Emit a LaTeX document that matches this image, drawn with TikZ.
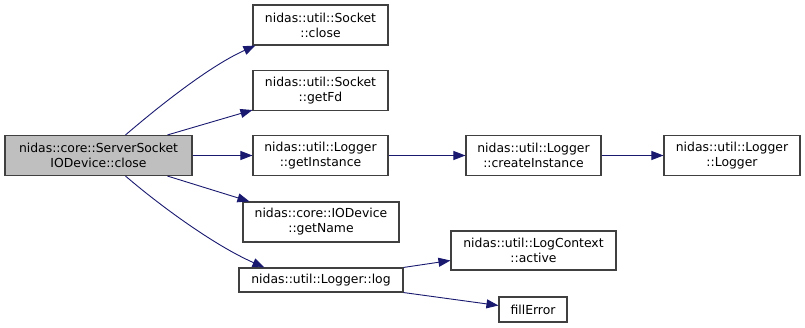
\documentclass[tikz,border=0pt]{standalone}
\usepackage{fontspec}
\usepackage{xcolor}
\usepackage{tikz}
\usetikzlibrary{arrows.meta}
\newfontfamily\dxfont{DejaVu Sans}
\definecolor{dxblue}{HTML}{191970}
\definecolor{dxgray}{HTML}{404040}
\definecolor{dxfill}{HTML}{BFBFBF}

\begin{document}
\begin{tikzpicture}[
    x=1pt,y=-1pt,
    fn/.style    = {draw=dxgray, line width=1.1pt, fill=white, align=center,
                    font=\dxfont\fontsize{12.4}{15}\selectfont,
                    inner sep=0pt, minimum height=40pt},
    fnr/.style   = {fn, fill=dxfill},
    appel/.style = {-{Triangle[length=12pt,width=9pt]}, dxblue, line width=0.9pt},
  ]

  \useasboundingbox (0,0) rectangle (805,328);

  \node[fnr,minimum width=187pt] (srv) at (98.5,155.5)
       {nidas::core::ServerSocket\\IODevice::close};

  \node[fn,minimum width=135pt] (sclose) at (320.5,25)  {nidas::util::Socket\\::close};
  \node[fn,minimum width=135pt] (getfd)  at (320.5,90.5) {nidas::util::Socket\\::getFd};
  \node[fn,minimum width=135pt] (getins) at (320.5,155.5) {nidas::util::Logger\\::getInstance};
  \node[fn,minimum width=156pt] (getnam) at (321,222)   {nidas::core::IODevice\\::getName};
  \node[fn,minimum width=164pt,minimum height=24pt] (log) at (321,280)
       {nidas::util::Logger::log};

  \node[fn,minimum width=135pt] (creins) at (533.5,155.5) {nidas::util::Logger\\::createInstance};
  \node[fn,minimum width=136pt] (lgr)    at (732,155.5)   {nidas::util::Logger\\::Logger};
  \node[fn,minimum width=165pt,minimum height=39pt] (active) at (533.5,250.5)
       {nidas::util::LogContext\\::active};
  \node[fn,minimum width=68pt,minimum height=25pt] (fill) at (533,309.5) {fillError};

  % calls out of the root
  \draw[appel] ([xshift=27pt]srv.north)
       .. controls +(35,-30) and +(-45,20) .. ([xshift=3pt]sclose.south west);
  \draw[appel] ([xshift=69pt]srv.north) -- ([yshift=1pt]getfd.south west);
  \draw[appel] (srv.east) -- (getins.west);
  \draw[appel] ([xshift=69pt]srv.south) -- ([xshift=7pt]getnam.north west);
  \draw[appel] ([xshift=27pt]srv.south)
       .. controls +(35,30) and +(-50,-22) .. ([xshift=26pt]log.north west);

  % second level
  \draw[appel] (getins.east) -- (creins.west);
  \draw[appel] (creins.east) -- (lgr.west);
  \draw[appel] (log.north east) -- ([yshift=-10pt]active.west);
  \draw[appel] (log.south east) -- ([yshift=4pt]fill.west);

\end{tikzpicture}
\end{document}
